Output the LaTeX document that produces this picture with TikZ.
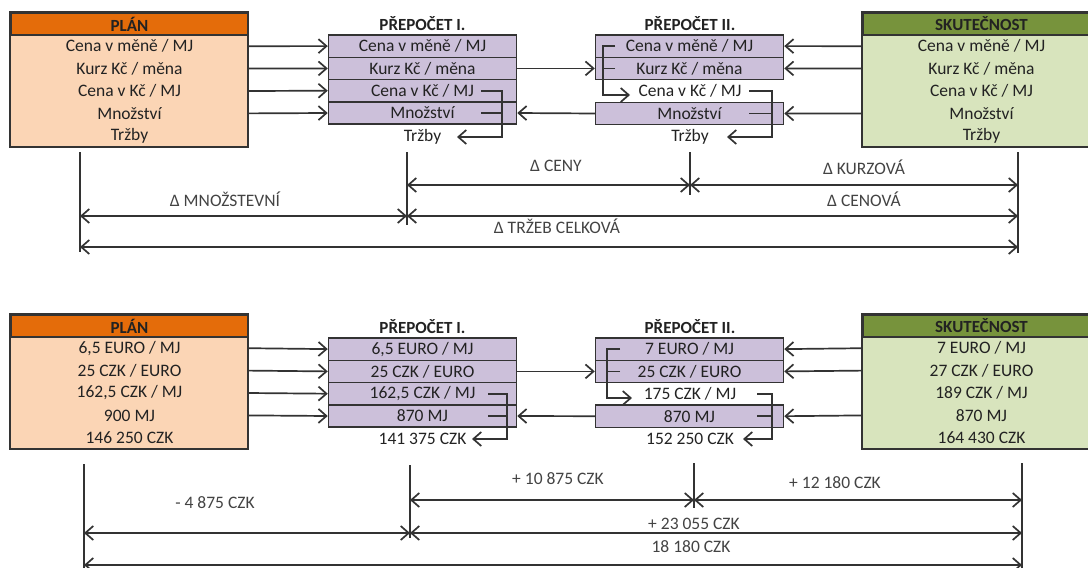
\documentclass[tikz,border=0pt]{standalone}
\usepackage{fontspec}
\setmainfont{Carlito}
\usetikzlibrary{arrows.meta,calc}
\definecolor{orangeH}{HTML}{E46C0A}
\definecolor{peach}{HTML}{FBD5B5}
\definecolor{greenH}{HTML}{77933C}
\definecolor{lgreen}{HTML}{D8E4BD}
\definecolor{lav}{HTML}{CCC0DA}
\definecolor{linec}{HTML}{333333}
\definecolor{textc}{HTML}{222222}
\begin{document}
\begin{tikzpicture}[x=1pt,y=-1pt,
  txt/.style={font=\fontsize{17.5}{20}\selectfont, text=textc, inner sep=0pt},
  btxt/.style={font=\bfseries\fontsize{17}{20}\selectfont, text=textc, inner sep=0pt},
  hdr/.style={btxt, minimum width=237pt, minimum height=22pt, draw=linec, line width=1.5pt},
  prow/.style={txt, minimum width=237pt, minimum height=22.4pt},
  irow/.style={txt, minimum width=188pt, minimum height=22.3pt, draw=linec, fill=lav, line width=1.5pt},
  boxline/.style={draw=linec, line width=1.6pt},
  conn/.style={draw=linec, line width=1.7pt},
  tip/.tip={Straight Barb[length=8pt,width=14pt]},
  arr/.style={conn, -tip},
  dbl/.style={conn, tip-tip},
  lab/.style={txt, text=textc!85}
]
\useasboundingbox (0,0) rectangle (1088,568);

% ================= TOP HALF =================
% PLAN
\node[prow, fill=peach] (tP1) at (129.5,46.2) {Cena v měně / MJ};
\node[prow, fill=peach] (tP2) at (129.5,68.6) {Kurz Kč / měna};
\node[prow, fill=peach] (tP3) at (129.5,91.0) {Cena v Kč / MJ};
\node[prow, fill=peach] (tP4) at (129.5,113.4) {Množství};
\node[prow, fill=peach] (tP5) at (129.5,135.8) {Tržby};
\node[hdr, fill=orangeH] (tPh) at (129.5,24) {PLÁN};
\draw[boxline] (tPh.north west) rectangle (tP5.south east);

% PREPOCET I.
\node[btxt] (tIh) at (422.5,24) {PŘEPOČET I.};
\node[irow] (tI1) at (422.5,46.1) {Cena v měně / MJ};
\node[irow] (tI2) at (422.5,68.4) {Kurz Kč / měna};
\node[irow] (tI3) at (422.5,90.7) {Cena v Kč / MJ};
\node[irow] (tI4) at (422.5,113.0) {Množství};
\node[txt] (tI5) at (422.5,137) {Tržby};

% PREPOCET II.
\node[btxt] (tIIh) at (690,24) {PŘEPOČET II.};
\node[irow] (tII1) at (689.5,46.1) {Cena v měně / MJ};
\node[irow] (tII2) at (689.5,68.4) {Kurz Kč / měna};
\node[txt] (tII3) at (690,90.7) {Cena v Kč / MJ};
\node[irow] (tII4) at (689.5,113.5) {Množství};
\node[txt] (tII5) at (690,137) {Tržby};

% SKUTECNOST
\node[prow, fill=lgreen] (tS1) at (981.5,46.2) {Cena v měně / MJ};
\node[prow, fill=lgreen] (tS2) at (981.5,68.6) {Kurz Kč / měna};
\node[prow, fill=lgreen] (tS3) at (981.5,91.0) {Cena v Kč / MJ};
\node[prow, fill=lgreen] (tS4) at (981.5,113.4) {Množství};
\node[prow, fill=lgreen] (tS5) at (981.5,135.8) {Tržby};
\node[hdr, fill=greenH] (tSh) at (981.5,24) {SKUTEČNOST};
\draw[boxline] (tSh.north west) rectangle (tS5.south east);

% connectors
\foreach \i in {1,...,4} { \draw[arr] (tP\i.east) -- (tI\i.west); }
\draw[arr] (tI2.east) -- (tII2.west);
\draw[arr] (tII4.west) -- (tI4.east);
\draw[arr] (tS1.west) -- (tII1.east);
\draw[arr] (tS2.west) -- (tII2.east);
\draw[arr] (tS4.west) -- (tII4.east);

\coordinate (tIs) at (481,0);
\coordinate (tIb) at (502,0);
\coordinate (tIt) at (457,0);
\draw[arr] (tI3 -| tIs) -- (tI3 -| tIb) -- (tI5 -| tIb) -- (tI5 -| tIt);
\draw[conn] (tI4 -| tIs) -- (tI4 -| tIb);

\coordinate (tIIs) at (615,0);
\coordinate (tIIb) at (603,0);
\coordinate (tIIt) at (630,95);
\draw[arr] (tII1 -| tIIs) -- (tII1 -| tIIb) |- (tIIt);
\draw[conn] (tII2 -| tIIs) -- (tII2 -| tIIb);

\coordinate (tIIrs) at (749,0);
\coordinate (tIIrb) at (772,0);
\coordinate (tIIrt) at (727,0);
\draw[arr] (tII3 -| tIIrs) -- (tII3 -| tIIrb) -- (tII5 -| tIIrb) -- (tII5 -| tIIrt);
\draw[conn] (tII4 -| tIIrs) -- (tII4 -| tIIrb);

% dimension lines top
\coordinate (tV1a) at (80,152);  \coordinate (tV1b) at (80,252);
\coordinate (tV2a) at (407,152); \coordinate (tV2b) at (407,225);
\coordinate (tV3a) at (690,152); \coordinate (tV3b) at (690,195);
\coordinate (tV4a) at (1018,152);\coordinate (tV4b) at (1018,253);
\draw[conn] (tV1a) -- (tV1b);
\draw[conn] (tV2a) -- (tV2b);
\draw[conn] (tV3a) -- (tV3b);
\draw[conn] (tV4a) -- (tV4b);
\coordinate (tRA) at (0,185);
\coordinate (tRB) at (0,216);
\coordinate (tRC) at (0,247);
\draw[dbl] (tV2a |- tRA) -- (tV3a |- tRA);
\draw[dbl] (tV3a |- tRA) -- (tV4a |- tRA);
\draw[dbl] (tV1a |- tRB) -- (tV2a |- tRB);
\draw[dbl] (tV2a |- tRB) -- (tV4a |- tRB);
\draw[dbl] (tV1a |- tRC) -- (tV4a |- tRC);
\node[lab] (tLceny) at (556,166) {Δ CENY};
\node[lab] (tLkurz) at (864,167) {Δ KURZOVÁ};
\node[lab] (tLmn) at (225,199) {Δ MNOŽSTEVNÍ};
\node[lab] (tLcen) at (864,199) {Δ CENOVÁ};
\node[lab] (tLtr) at (557,226) {Δ TRŽEB CELKOVÁ};

% ================= BOTTOM HALF =================
\begin{scope}[shift={(0,302)}]
\node[prow, fill=peach] (bP1) at (129.5,46.2) {6,5 EURO / MJ};
\node[prow, fill=peach] (bP2) at (129.5,68.6) {25 CZK / EURO};
\node[prow, fill=peach] (bP3) at (129.5,91.0) {162,5 CZK / MJ};
\node[prow, fill=peach] (bP4) at (129.5,113.4) {900 MJ};
\node[prow, fill=peach] (bP5) at (129.5,135.8) {146 250 CZK};
\node[hdr, fill=orangeH] (bPh) at (129.5,24) {PLÁN};
\draw[boxline] (bPh.north west) rectangle (bP5.south east);

\node[btxt] (bIh) at (422.5,25) {PŘEPOČET I.};
\node[irow] (bI1) at (422.5,47.1) {6,5 EURO / MJ};
\node[irow] (bI2) at (422.5,69.4) {25 CZK / EURO};
\node[irow] (bI3) at (422.5,91.7) {162,5 CZK / MJ};
\node[irow] (bI4) at (422.5,114.0) {870 MJ};
\node[txt] (bI5) at (422.5,137) {141 375 CZK};

\node[btxt] (bIIh) at (690,25) {PŘEPOČET II.};
\node[irow] (bII1) at (689.5,47.1) {7 EURO / MJ};
\node[irow] (bII2) at (689.5,69.4) {25 CZK / EURO};
\node[txt] (bII3) at (690,92) {175 CZK / MJ};
\node[irow] (bII4) at (689.5,114.2) {870 MJ};
\node[txt] (bII5) at (690,137) {152 250 CZK};

\node[prow, fill=lgreen] (bS1) at (981.5,46.2) {7 EURO / MJ};
\node[prow, fill=lgreen] (bS2) at (981.5,68.6) {27 CZK / EURO};
\node[prow, fill=lgreen] (bS3) at (981.5,91.0) {189 CZK / MJ};
\node[prow, fill=lgreen] (bS4) at (981.5,113.4) {870 MJ};
\node[prow, fill=lgreen] (bS5) at (981.5,135.8) {164 430 CZK};
\node[hdr, fill=greenH] (bSh) at (981.5,24) {SKUTEČNOST};
\draw[boxline] (bSh.north west) rectangle (bS5.south east);

\foreach \i in {1,...,4} { \draw[arr] (bP\i.east) -- (bI\i.west); }
\draw[arr] (bI2.east) -- (bII2.west);
\draw[arr] (bII4.west) -- (bI4.east);
\draw[arr] (bS1.west) -- (bII1.east);
\draw[arr] (bS2.west) -- (bII2.east);
\draw[arr] (bS4.west) -- (bII4.east);

\coordinate (bIs) at (488,0);
\coordinate (bIb) at (507,0);
\coordinate (bIt) at (472,0);
\draw[arr] (bI3 -| bIs) -- (bI3 -| bIb) -- (bI5 -| bIb) -- (bI5 -| bIt);
\draw[conn] (bI4 -| bIs) -- (bI4 -| bIb);

\coordinate (bIIs) at (620,0);
\coordinate (bIIb) at (607,0);
\coordinate (bIIt) at (632,96);
\draw[arr] (bII1 -| bIIs) -- (bII1 -| bIIb) |- (bIIt);
\draw[conn] (bII2 -| bIIs) -- (bII2 -| bIIb);

\coordinate (bIIrs) at (757,0);
\coordinate (bIIrb) at (772,0);
\coordinate (bIIrt) at (743,0);
\draw[arr] (bII3 -| bIIrs) -- (bII3 -| bIIrb) -- (bII5 -| bIIrb) -- (bII5 -| bIIrt);
\draw[conn] (bII4 -| bIIrs) -- (bII4 -| bIIrb);
\end{scope}

% dimension lines bottom
\coordinate (bV1a) at (84,464);  \coordinate (bV1b) at (84,572);
\coordinate (bV2a) at (410,465); \coordinate (bV2b) at (410,538);
\coordinate (bV3a) at (694,463); \coordinate (bV3b) at (694,508);
\coordinate (bV4a) at (1022,463);\coordinate (bV4b) at (1022,572);
\draw[conn] (bV1a) -- (bV1b);
\draw[conn] (bV2a) -- (bV2b);
\draw[conn] (bV3a) -- (bV3b);
\draw[conn] (bV4a) -- (bV4b);
\coordinate (bRA) at (0,500);
\coordinate (bRB) at (0,533);
\coordinate (bRC) at (0,565);
\draw[dbl] (bV2a |- bRA) -- (bV3a |- bRA);
\draw[dbl] (bV3a |- bRA) -- (bV4a |- bRA);
\draw[dbl] (bV1a |- bRB) -- (bV2a |- bRB);
\draw[dbl] (bV2a |- bRB) -- (bV4a |- bRB);
\draw[dbl] (bV1a |- bRC) -- (bV4a |- bRC);
\node[lab] (bL1) at (558,479) {+ 10 875 CZK};
\node[lab] (bL2) at (835,483) {+ 12 180 CZK};
\node[lab] (bL3) at (215,503) {- 4 875 CZK};
\node[lab] (bL4) at (694,524) {+ 23 055 CZK};
\node[lab] (bL5) at (691,547) {18 180 CZK};
\end{tikzpicture}
\end{document}
